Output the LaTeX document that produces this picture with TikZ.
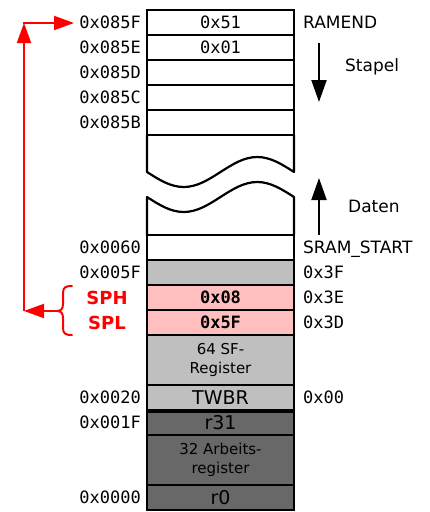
\documentclass[tikz,border=0pt]{standalone}
\usepackage{fontspec}
\setmainfont{DejaVu Sans}
\setmonofont{DejaVu Sans Mono}
\newfontfamily\monof{DejaVu Sans Mono}
\usetikzlibrary{arrows.meta}
\definecolor{lgray}{RGB}{191,191,191}
\definecolor{dgray}{RGB}{104,104,104}
\definecolor{pinkf}{RGB}{255,191,191}
\definecolor{redl}{RGB}{255,0,0}
\tikzset{
  memrow/.style={draw=black, line width=2.2pt, minimum width=147pt, minimum height=25pt, inner sep=0pt, font=\fontsize{17}{20}\selectfont\monof},
  addr/.style={anchor=east, inner sep=0pt, text height=12.4pt, text depth=0pt, font=\fontsize{17}{20}\selectfont\monof},
  rlab/.style={anchor=west, inner sep=0pt, text height=12.4pt, text depth=0pt, font=\fontsize{17}{20}\selectfont},
  rlabm/.style={rlab, font=\fontsize{17}{20}\selectfont\monof},
  bigtxt/.style={font=\fontsize{19}{22}\selectfont},
  smalltxt/.style={align=center, font=\fontsize{15}{19}\selectfont},
  boldm/.style={font=\fontsize{17}{20}\selectfont\monof\bfseries},
  redarrow/.style={draw=redl, line width=2pt, -{Triangle[length=20pt,width=14pt]}},
  blkarrow/.style={draw=black, line width=2pt, -{Triangle[length=22pt,width=15pt]}},
  sp/.style={text=redl, inner sep=0pt, font=\fontsize{18}{20}\selectfont\bfseries}
}
\begin{document}
\begin{tikzpicture}[x=1pt,y=-1pt]
\useasboundingbox (0,0) rectangle (429,512);
% memory rows
\node[memrow, fill=white] (r85F) at (220.5,22.5) {0x51};
\node[memrow, fill=white] (r85E) at (220.5,47.5) {0x01};
\node[memrow, fill=white] (r85D) at (220.5,72.5) {};
\node[memrow, fill=white] (r85C) at (220.5,97.5) {};
\node[memrow, fill=white] (r85B) at (220.5,122.5) {};
% broken section
\draw[line width=2.2pt, line join=round] (147,135) -- (147,172) sin (183.75,187) cos (220.5,172) sin (257.25,157) cos (294,172) -- (294,135);
\draw[line width=2.2pt, line join=round] (147,235) -- (147,197) sin (183.75,212) cos (220.5,197) sin (257.25,182) cos (294,197) -- (294,235);
\node[memrow, fill=white] (r60) at (220.5,247.5) {};
\node[memrow, fill=lgray] (r5F) at (220.5,272.5) {};
\node[memrow, fill=pinkf, boldm] (rSPH) at (220.5,297.5) {0x08};
\node[memrow, fill=pinkf, boldm] (rSPL) at (220.5,322.5) {0x5F};
\node[memrow, fill=lgray, minimum height=50pt, smalltxt] (rSF) at (220.5,360) {64 SF-\\Register};
\node[memrow, fill=lgray, bigtxt] (rTW) at (220.5,397.5) {TWBR};
\node[memrow, fill=dgray, bigtxt] (rR31) at (220.5,422.5) {r31};
\node[memrow, fill=dgray, minimum height=50pt, smalltxt] (rAR) at (220.5,460) {32 Arbeits-\\register};
\node[memrow, fill=dgray, bigtxt] (rR0) at (220.5,497.5) {r0};
\draw[line width=4pt] (rTW.south west) -- (rTW.south east);
% address labels
\node[addr] (a85F) at (141,22.5) {0x085F};
\node[addr] (a85E) at (141,47.5) {0x085E};
\node[addr] (a85D) at (141,72.5) {0x085D};
\node[addr] (a85C) at (141,97.5) {0x085C};
\node[addr] (a85B) at (141,122.5) {0x085B};
\node[addr] (a60) at (141,247.5) {0x0060};
\node[addr] (a5F) at (141,272.5) {0x005F};
\node[addr] (a20) at (141,397.5) {0x0020};
\node[addr] (a1F) at (141,422.5) {0x001F};
\node[addr] (a00) at (141,497.5) {0x0000};
% right labels
\node[rlab] (ramend) at (303,22.5) {RAMEND};
\node[rlab] (sramstart) at (303,247.5) {SRAM\_START};
\node[rlabm] (h3F) at (303,272.5) {0x3F};
\node[rlabm] (h3E) at (303,297.5) {0x3E};
\node[rlabm] (h3D) at (303,322.5) {0x3D};
\node[rlabm] (h00) at (303,397.5) {0x00};
\node[rlab] (stapel) at (345,65) {Stapel};
\node[rlab] (daten) at (348,206) {Daten};
% stack / data arrows
\coordinate (sa) at (319,43);
\coordinate (sb) at (319,102);
\coordinate (da) at (319,235);
\coordinate (db) at (319,178);
\draw[blkarrow] (sa) -- (sb);
\draw[blkarrow] (da) -- (db);
% SPH / SPL
\node[sp] (sph) at (107,297.5) {SPH};
\node[sp] (spl) at (107,322.5) {SPL};
\coordinate (bt) at (57,311);
\coordinate (cb) at (24,311);
\coordinate (ct) at (24,23);
\coordinate (ctl) at (23,23);
\coordinate (tg) at (74,23);
\draw[redl, line width=2pt, line cap=round, line join=round] (72,286) .. controls (66,286) and (63,287) .. (63,293) -- (63,304) .. controls (63,309) and (61,311) .. (bt) .. controls (61,311) and (63,313) .. (63,318) -- (63,328) .. controls (63,334) and (66,335) .. (72,335);
\draw[redarrow] (bt) -- (cb);
\draw[redarrow] (cb) -- (ct);
\draw[redarrow] (ctl) -- (tg);
\end{tikzpicture}
\end{document}
